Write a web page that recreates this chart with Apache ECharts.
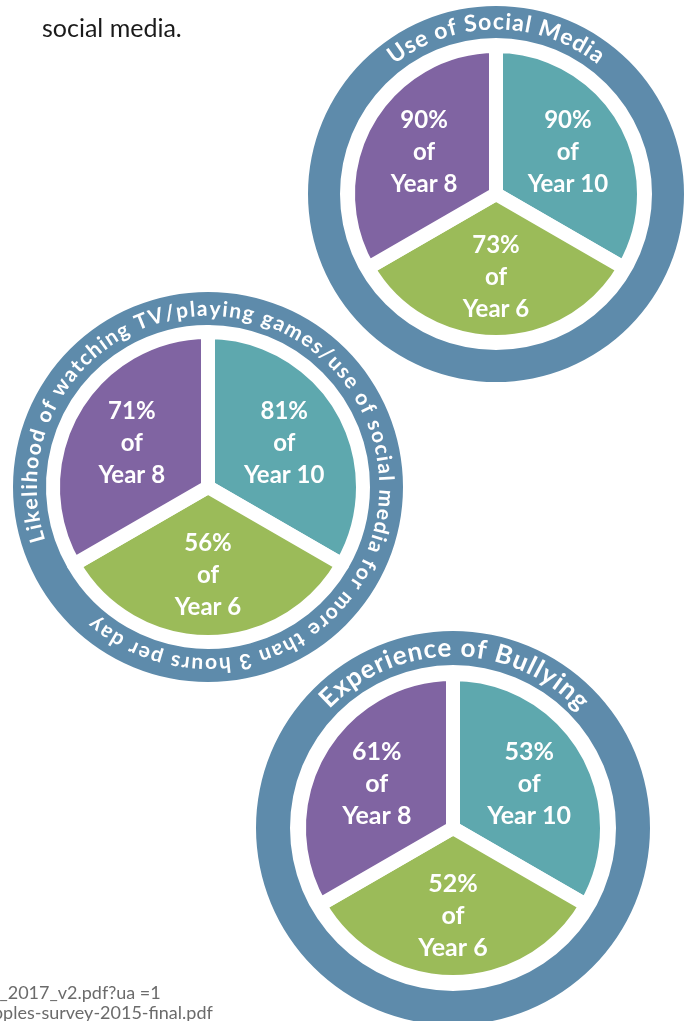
<!DOCTYPE html>
<html><head><meta charset="utf-8">
<script src="https://cdn.jsdelivr.net/npm/echarts@6/dist/echarts.min.js"></script>
<style>html,body{margin:0;padding:0;background:#fff}#c{width:685px;height:1021px}</style>
</head><body><div id="c"></div>
<script>
// ---- data ----
const groups = ['Year 10', 'Year 6', 'Year 8'];
const titles = [
  'Use of Social Media',
  'Likelihood of watching TV/playing games/use of social media for more than 3 hours per day',
  'Experience of Bullying'
];
const socialMedia = [90, 73, 90];
const screenTime = [81, 56, 71];
const bullying = [53, 52, 61];
const sliceShares = [1, 1, 1];
const topText = 'social media.';
const sourceLines = ['t_2017_v2.pdf?ua =1', 'pples-survey-2015-final.pdf'];

// ---- styling / layout ----
const sliceColors = ['#5ea8ae', '#9bbb59', '#8064a2'];
const ringColor = '#5e8bab';
const values = [socialMedia, screenTime, bullying];
const layout = [
  {cx: 496, cy: 194, R: 188, ring: 32, pieR: 141, d: 80, fs: 23, a0: -38, a1: 38, tf: 24},
  {cx: 208, cy: 487, R: 195, ring: 34, pieR: 148, d: 85, fs: 21, a0: -108, a1: 221, tf: 24},
  {cx: 453, cy: 828, R: 197, ring: 34, pieR: 147, d: 85, fs: 26, a0: -46, a1: 47, tf: 25}
];

const ctx = document.createElement('canvas').getContext('2d');
function arcText(text, cx, cy, r, a0, a1, size) {
  const font = 'bold ' + size + 'px Lato';
  ctx.font = font;
  const chars = Array.from(text);
  const ws = chars.map(ch => ctx.measureText(ch).width);
  const W = ws.reduce((a, b) => a + b, 0);
  const L = (a1 - a0) * Math.PI / 180 * r;
  const extra = (L - W) / (chars.length - 1);
  const els = [];
  let s = 0;
  chars.forEach((ch, i) => {
    const mid = s + ws[i] / 2;
    const th = a0 * Math.PI / 180 + mid / r;
    els.push({
      type: 'text', z: 100, silent: true,
      x: cx + r * Math.sin(th), y: cy - r * Math.cos(th), rotation: -th,
      style: {text: ch, fill: '#fff', font: font, fontFamily: 'Lato', fontWeight: 'bold', fontSize: size,
        align: 'center', verticalAlign: 'middle', textAlign: 'center', textVerticalAlign: 'middle'}
    });
    s += ws[i] + extra;
  });
  return els;
}

const series = [];
let graphics = [];
layout.forEach((c, i) => {
  const center = [c.cx, c.cy];
  series.push({
    type: 'pie', silent: true, center: center, radius: [c.R - c.ring, c.R],
    data: [{value: 1, name: 'ring'}], itemStyle: {color: ringColor},
    label: {show: false}, labelLine: {show: false}, emphasis: {disabled: true}
  });
  series.push({
    type: 'pie', silent: true, center: center, radius: [0, c.pieR + 7], startAngle: 90, clockwise: true,
    data: groups.map((g, j) => ({value: sliceShares[j], name: g, itemStyle: {color: sliceColors[j]}})),
    itemStyle: {borderColor: '#fff', borderWidth: 14},
    label: {show: false}, labelLine: {show: false}, emphasis: {disabled: true}
  });
  series.push({
    type: 'pie', silent: true, center: center, radius: [c.d - 2, c.d + 2], startAngle: 90, clockwise: true,
    data: groups.map((g, j) => ({value: sliceShares[j], name: g, pct: values[i][j]})),
    itemStyle: {color: 'rgba(0,0,0,0)'},
    label: {show: true, position: 'inside', formatter: p => p.data.pct + '%\nof\n' + p.name,
      color: '#fff', fontFamily: 'Lato', fontWeight: 'bold', fontSize: c.tf, lineHeight: 32},
    labelLine: {show: false}, emphasis: {disabled: true}
  });
  const rm = c.R - c.ring / 2;
  graphics = graphics.concat(arcText(titles[i], c.cx, c.cy, rm, c.a0, c.a1, c.fs));
});

graphics.push({type: 'text', z: 100, silent: true, x: 42, y: 29,
  style: {text: topText, fill: '#1a1a1a', font: '25px Lato', fontFamily: 'Lato', fontSize: 25,
    align: 'left', verticalAlign: 'middle', textAlign: 'left', textVerticalAlign: 'middle'}});
sourceLines.forEach((t, k) => {
  graphics.push({type: 'text', z: 100, silent: true, x: -7, y: 993 + k * 20,
    style: {text: t, fill: '#6b6b6b', font: '18px Lato', fontFamily: 'Lato', fontSize: 18,
      align: 'left', verticalAlign: 'middle', textAlign: 'left', textVerticalAlign: 'middle'}});
});

const chart = echarts.init(document.getElementById('c'), null, {renderer: 'canvas'});
chart.setOption({animation: false, backgroundColor: '#fff', series: series, graphic: {elements: graphics}});
</script></body></html>
